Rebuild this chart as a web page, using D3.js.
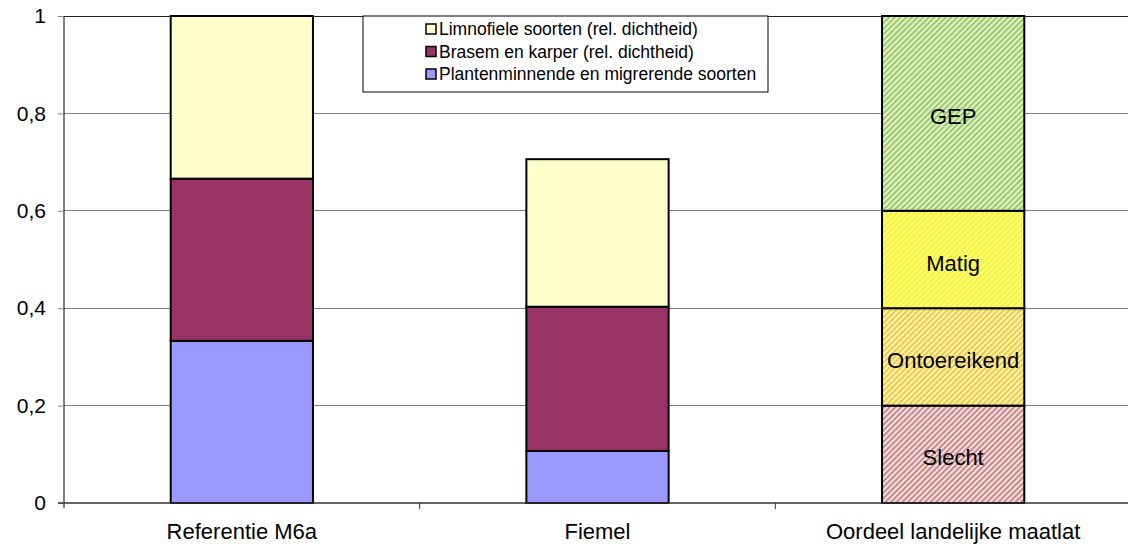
<!DOCTYPE html>
<html>
<head>
<meta charset="utf-8">
<script src="https://cdn.jsdelivr.net/npm/d3@7"></script>
<style>
  html, body { margin: 0; padding: 0; background: #fff; }
  svg { display: block; font-family: Arial, "Liberation Sans", sans-serif; }
</style>
</head>
<body>
<svg id="chart" width="1128" height="549"></svg>
<script>
// Categories along the x axis
const categories = ["Referentie M6a", "Fiemel", "Oordeel landelijke maatlat"];

// Relative shares per fish group (stacked bottom to top)
const plantenminnend = [0.333, 0.107, 0];
const brasemKarper   = [0.333, 0.296, 0];
const limnofiel      = [0.334, 0.303, 0];

// Quality classes of the national yardstick (stacked bottom to top)
const klassen       = ["Slecht", "Ontoereikend", "Matig", "GEP"];
const klasseGrenzen = [0.2, 0.2, 0.2, 0.4];

// Y axis tick labels
const yTicks = [0, 0.2, 0.4, 0.6, 0.8, 1];

const seriesNames = [
  "Plantenminnende en migrerende soorten",
  "Brasem en karper (rel. dichtheid)",
  "Limnofiele soorten (rel. dichtheid)"
];
const seriesColors = ["#9999ff", "#993366", "#ffffcc"];

const svg = d3.select("#chart");
const margin = { left: 64, top: 16, right: -3, bottom: 46 };
const W = 1128, H = 549;

const x = d3.scaleBand()
  .domain(categories)
  .range([margin.left, W - margin.right])
  .paddingInner(0).paddingOuter(0);
const y = d3.scaleLinear().domain([0, 1]).range([H - margin.bottom, margin.top]);

// Hatch patterns for the class bars
const defs = svg.append("defs");
const hatches = [
  { id: "h-slecht", bg: "#f6dede", fg: "#c48c8c" },
  { id: "h-ontoe",  bg: "#fff7a0", fg: "#ecc85a" },
  { id: "h-matig",  bg: "#ffff66", fg: "#f4f050" },
  { id: "h-gep",    bg: "#e2f2c8", fg: "#9ccb6e" }
];
hatches.forEach(h => {
  const p = defs.append("pattern")
    .attr("id", h.id)
    .attr("patternUnits", "userSpaceOnUse")
    .attr("width", 4).attr("height", 4)
    .attr("patternTransform", "rotate(45)");
  p.append("rect").attr("width", 4).attr("height", 4).attr("fill", h.bg);
  p.append("line").attr("x1", 1).attr("x2", 1).attr("y1", 0).attr("y2", 4)
    .attr("stroke", h.fg).attr("stroke-width", 2);
});

// Gridlines
svg.append("g").selectAll("line")
  .data(yTicks.filter(d => d > 0))
  .join("line")
  .attr("x1", margin.left).attr("x2", W)
  .attr("y1", d => y(d)).attr("y2", d => y(d))
  .attr("stroke", d => d === 1 ? "#222" : "#808080")
  .attr("stroke-width", 1)
  .attr("shape-rendering", "crispEdges");

// Stacked bars
const barW = x.bandwidth() * 0.4;
const stackData = categories.map((c, i) => ({
  cat: c,
  vals: [plantenminnend[i], brasemKarper[i], limnofiel[i]]
}));
const barG = svg.append("g");
stackData.forEach(d => {
  let acc = 0;
  d.vals.forEach((v, k) => {
    if (v > 0) {
      barG.append("rect")
        .attr("x", x(d.cat) + (x.bandwidth() - barW) / 2)
        .attr("width", barW)
        .attr("y", y(acc + v))
        .attr("height", y(acc) - y(acc + v))
        .attr("fill", seriesColors[k])
        .attr("stroke", "#000")
        .attr("stroke-width", 2);
    }
    acc += v;
  });
});

// Class bar with labels
{
  const cat = categories[2];
  let acc = 0;
  klasseGrenzen.forEach((v, k) => {
    const x0 = x(cat) + (x.bandwidth() - barW) / 2;
    barG.append("rect")
      .attr("x", x0).attr("width", barW)
      .attr("y", y(acc + v))
      .attr("height", y(acc) - y(acc + v))
      .attr("fill", `url(#${hatches[k].id})`)
      .attr("stroke", "#000")
      .attr("stroke-width", 2);
    barG.append("text")
      .attr("x", x0 + barW / 2)
      .attr("y", y(acc + v / 2))
      .attr("dy", "0.5em")
      .attr("text-anchor", "middle")
      .attr("font-size", 22)
      .attr("fill", "#000")
      .text(klassen[k]);
    acc += v;
  });
}

// Y axis
const yAxis = svg.append("g")
  .attr("transform", `translate(${margin.left},0)`)
  .call(d3.axisLeft(y).tickValues(yTicks).tickSize(6).tickPadding(12)
    .tickFormat(d => d3.format("")(d).replace(".", ",")));
yAxis.select(".domain").attr("stroke", "#000").attr("d", `M0,${y(1)}V${y(0) + 5}`);
yAxis.selectAll(".tick line").attr("stroke", "#808080");
yAxis.selectAll("text").attr("font-size", 21).attr("fill", "#000")
  .attr("font-family", "Arial, 'Liberation Sans', sans-serif");

// X axis with ticks at category boundaries
const xAxis = svg.append("g")
  .attr("transform", `translate(0,${y(0)})`);
xAxis.append("line")
  .attr("x1", margin.left - 6).attr("x2", W)
  .attr("y1", 0).attr("y2", 0)
  .attr("stroke", "#333").attr("stroke-width", 1.5);
xAxis.selectAll("line.tk")
  .data(categories.slice(1))
  .join("line").attr("class", "tk")
  .attr("x1", d => x(d)).attr("x2", d => x(d))
  .attr("y1", 0).attr("y2", 6)
  .attr("stroke", "#333");
xAxis.selectAll("text")
  .data(categories)
  .join("text")
  .attr("x", d => x(d) + x.bandwidth() / 2)
  .attr("y", 36)
  .attr("text-anchor", "middle")
  .attr("font-size", 22)
  .attr("fill", "#000")
  .text(d => d);

// Legend
const lg = svg.append("g");
lg.append("rect")
  .attr("x", 363).attr("y", 16)
  .attr("width", 405).attr("height", 76)
  .attr("fill", "#fff").attr("stroke", "#000").attr("stroke-width", 1);
const legendOrder = [2, 1, 0];
legendOrder.forEach((k, i) => {
  const cy = 29 + i * 22.5;
  lg.append("rect")
    .attr("x", 426).attr("y", cy - 5)
    .attr("width", 10).attr("height", 10)
    .attr("fill", seriesColors[k]).attr("stroke", "#000").attr("stroke-width", 1.5);
  lg.append("text")
    .attr("x", 439).attr("y", cy)
    .attr("dy", "0.36em")
    .attr("font-size", 17.5)
    .attr("fill", "#000")
    .text(seriesNames[k]);
});
</script>
</body>
</html>
